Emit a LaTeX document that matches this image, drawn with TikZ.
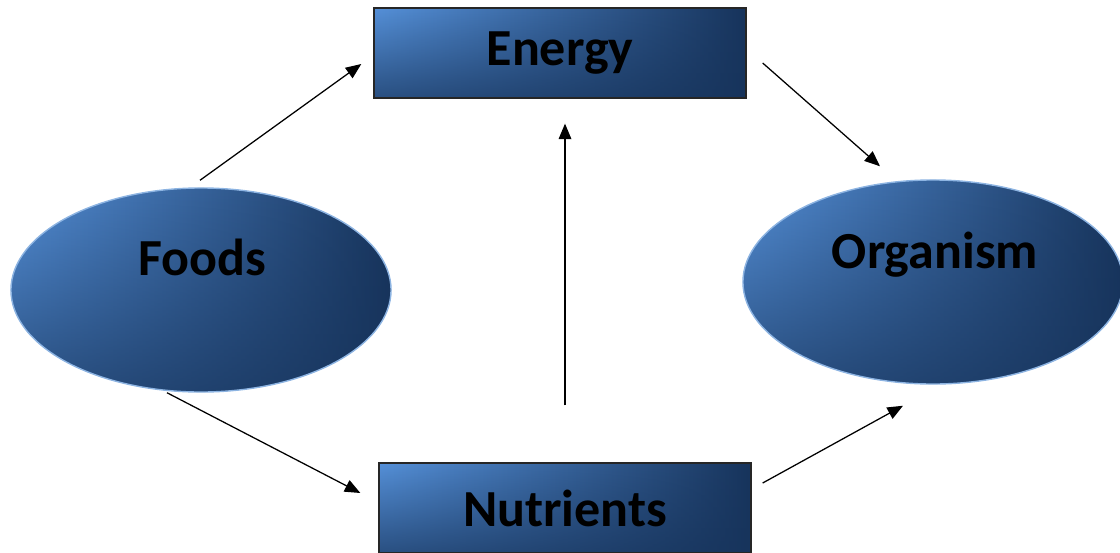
\documentclass[tikz,border=0pt]{standalone}
\usepackage{fontspec}
\setmainfont{Carlito}
\usetikzlibrary{arrows.meta,positioning,shapes.geometric,calc,fadings}
\definecolor{nodeLight}{HTML}{5590D8}
\definecolor{nodeDark}{HTML}{17345C}
\definecolor{rimBlue}{HTML}{8DB4E2}
\tikzfading[name=fade bottom,top color=transparent!100,middle color=transparent!100,bottom color=transparent!30]

\begin{document}
\begin{tikzpicture}[x=0.025cm,y=-0.025cm,
  grad/.style={left color=nodeLight,right color=nodeDark,
    path picture={\fill[nodeDark,path fading=fade bottom]
      (path picture bounding box.south west) rectangle (path picture bounding box.north east);}},
  box/.style={grad,draw=black!85,line width=0.9pt,minimum width=9.3cm,minimum height=2.25cm,
              inner sep=0pt,font=\fontsize{37}{42}\selectfont\bfseries},
  blob/.style={grad,ellipse,draw=rimBlue,line width=1pt,minimum width=9.5cm,minimum height=5.1cm,inner sep=0pt},
  lbl/.style={font=\fontsize{37}{42}\selectfont\bfseries},
  arr/.style={-{Triangle[length=11pt,width=9pt]},black,line width=0.9pt}
]
  \useasboundingbox (0,0) rectangle (1120,553);

  % Middle column
  \node[box] (energy)    at (560,53)  {Energy};
  \node[box] (nutrients) at (565,508) {Nutrients};

  % Left and right
  \node[blob] (foods)    at (201,290) {};
  \node[blob] (organism) at (933,282) {};
  \node[lbl] (foodsLbl)    at ($(foods.center)+(1,-33)$)    {Foods};
  \node[lbl] (organismLbl) at ($(organism.center)+(2,-27)$) {Organism};

  \draw[arr] ($(foods.north)+(-1,-7)$)     -- ($(energy.west)+(-12,11)$);
  \draw[arr] ($(energy.east)+(16,10)$)     -- ($(organism.north)+(-53,-13)$);
  \draw[arr] ($(foods.south)+(-34,0)$)     -- ($(nutrients.west)+(-18,-15)$);
  \draw[arr] ($(nutrients.east)+(11,-25)$) -- ($(organism.south)+(-30,21)$);
  \draw[arr] ($(nutrients.north)+(0,-57)$) -- ($(nutrients.north |- energy.south)+(0,25)$);
\end{tikzpicture}
\end{document}
